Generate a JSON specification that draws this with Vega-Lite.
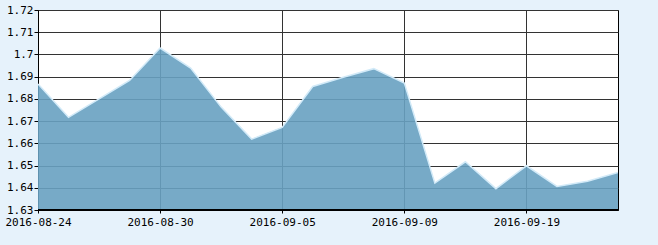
{
  "$schema": "https://vega.github.io/schema/vega-lite/v6.json",
  "autosize": "none",
  "width": 580,
  "height": 200,
  "padding": {"left": 38, "top": 10, "right": 40, "bottom": 35},
  "background": "#e6f2fb",
  "config": {
    "view": {"stroke": "#000000", "strokeWidth": 1, "fill": "#ffffff"},
    "axis": {
      "labelFont": "DejaVu Sans Mono",
      "labelFontSize": 11,
      "labelColor": "#000000",
      "domainColor": "#000000",
      "tickColor": "#000000",
      "gridColor": "#333333",
      "gridOpacity": 1,
      "gridWidth": 1,
      "title": null
    }
  },
  "data": {
    "values": [
      {"date": "2016-08-24", "v": 1.6867},
      {"date": "2016-08-25", "v": 1.6717},
      {"date": "2016-08-26", "v": 1.6800},
      {"date": "2016-08-29", "v": 1.6883},
      {"date": "2016-08-30", "v": 1.7029},
      {"date": "2016-08-31", "v": 1.6939},
      {"date": "2016-09-01", "v": 1.6763},
      {"date": "2016-09-02", "v": 1.6619},
      {"date": "2016-09-05", "v": 1.6672},
      {"date": "2016-09-06", "v": 1.6856},
      {"date": "2016-09-07", "v": 1.6897},
      {"date": "2016-09-08", "v": 1.6936},
      {"date": "2016-09-09", "v": 1.6871},
      {"date": "2016-09-12", "v": 1.6421},
      {"date": "2016-09-13", "v": 1.6517},
      {"date": "2016-09-14", "v": 1.6396},
      {"date": "2016-09-19", "v": 1.6499},
      {"date": "2016-09-20", "v": 1.6406},
      {"date": "2016-09-21", "v": 1.6429},
      {"date": "2016-09-22", "v": 1.6469}
    ]
  },
  "encoding": {
    "x": {
      "field": "date",
      "type": "ordinal",
      "sort": null,
      "scale": {"type": "point", "padding": 0},
      "axis": {
        "values": ["2016-08-24", "2016-08-30", "2016-09-05", "2016-09-09", "2016-09-19"],
        "labelAngle": 0,
        "grid": true,
        "tickSize": 3,
        "labelPadding": 3,
        "zindex": 0
      }
    },
    "y": {
      "field": "v",
      "type": "quantitative",
      "scale": {"domain": [1.63, 1.72], "zero": false, "nice": false},
      "axis": {
        "values": [1.63, 1.64, 1.65, 1.66, 1.67, 1.68, 1.69, 1.7, 1.71, 1.72],
        "format": "~g",
        "grid": true,
        "tickSize": 4,
        "labelPadding": 1,
        "zindex": 0
      }
    }
  },
  "layer": [
    {"mark": {"type": "area", "color": "#68a1c1", "fillOpacity": 0.9, "clip": true}},
    {"mark": {"type": "line", "color": "#d2eaf8", "strokeWidth": 1.5, "clip": true}},
    {
      "mark": {"type": "rule", "color": "#000000", "strokeWidth": 1},
      "encoding": {"x": null, "y": {"datum": 1.63}}
    }
  ]
}
